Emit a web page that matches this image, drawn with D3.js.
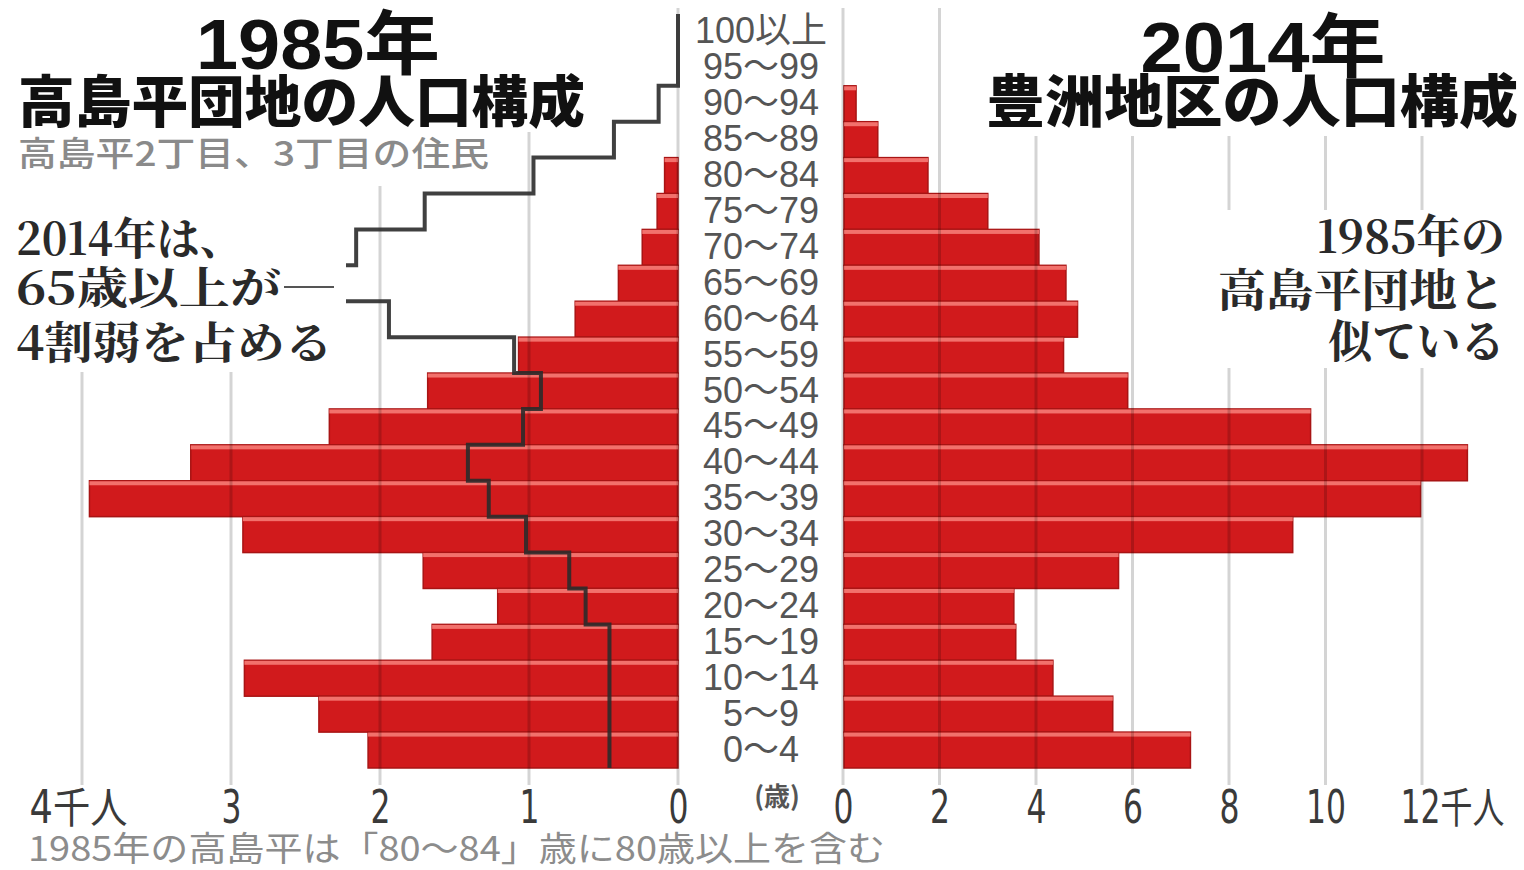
<!DOCTYPE html>
<html>
<head>
<meta charset="utf-8">
<style>
  body { margin: 0; background: #fff; }
  .gothic { font-family: "Noto Sans CJK JP", "Noto Sans", sans-serif; }
  .head { font-family: "Liberation Sans", "Noto Sans CJK JP", sans-serif; }
  .mincho { font-family: "Noto Serif CJK JP", "Noto Sans CJK JP", serif; }
  .narrow { font-family: "Liberation Sans Narrow", "DejaVu Sans Condensed", "Noto Sans CJK JP", sans-serif; }
</style>
</head>
<body>
<svg id="chart" width="1524" height="870"></svg>
<script src="https://d3js.org/d3.v7.min.js"></script>
<script>
// age groups, top to bottom
const ages = ['100以上', '95～99', '90～94', '85～89', '80～84', '75～79', '70～74', '65～69',
              '60～64', '55～59', '50～54', '45～49', '40～44', '35～39', '30～34', '25～29',
              '20～24', '15～19', '10～14', '5～9', '0～4'];
// 千人, 1985年 高島平団地 (80～84 includes 80+)
const takashima1985 = [null, null, null, null, 0.09, 0.14, 0.24, 0.40, 0.69, 1.07, 1.68,
                       2.34, 3.27, 3.95, 2.92, 1.71, 1.21, 1.65, 2.91, 2.41, 2.08];
// 千人, 2014年 高島平 (outline)
const takashima2014 = [0, 0, 0.13, 0.43, 0.97, 1.70, 2.16, 2.27, 1.94, 1.10, 0.92,
                       1.04, 1.41, 1.27, 1.02, 0.73, 0.62, 0.46, 0.46, 0.46, 0.46];
// 千人, 2014年 豊洲地区
const toyosu2014 = [0, 0, 0.25, 0.70, 1.74, 2.98, 4.04, 4.60, 4.84, 4.55, 5.88,
                    9.67, 12.92, 11.95, 9.30, 5.69, 3.52, 3.56, 4.33, 5.57, 7.18];
const leftTicks = [0, 1, 2, 3, 4];
const rightTicks = [0, 2, 4, 6, 8, 10, 12];

const svg = d3.select('#chart');

const y = d3.scaleBand().domain(ages).range([14, 768]).padding(0);
const xL = d3.scaleLinear().domain([0, 4]).range([678, 82]);
const xR = d3.scaleLinear().domain([0, 12]).range([843, 1422]);
const bw = y.bandwidth();
const gridTop = 8, gridBottom = 785;

// bars
function drawBars(values, side) {
  const rows = ages.map((a, i) => ({age: a, v: values[i]})).filter(d => d.v);
  const x0 = side === 'left' ? d => xL(d.v) : d => xR(0) + 1;
  const w = side === 'left' ? d => xL(0) - xL(d.v) : d => xR(d.v) - xR(0);
  const g = svg.append('g').selectAll('g').data(rows).join('g');
  g.append('rect')
    .attr('x', x0).attr('y', d => y(d.age))
    .attr('width', w).attr('height', bw)
    .attr('fill', '#d11a1c').attr('stroke', '#a81414').attr('stroke-width', 1.5);
  g.append('rect')
    .attr('x', x0).attr('y', d => y(d.age) + 0.5)
    .attr('width', w).attr('height', 4)
    .attr('fill', '#f2716c');
}
drawBars(takashima1985, 'left');
drawBars(toyosu2014, 'right');

// grid lines (drawn over bars, semi transparent)
const grid = svg.append('g');
grid.selectAll('.gl').data(leftTicks).join('line')
  .attr('x1', d => xL(d)).attr('x2', d => xL(d))
  .attr('y1', gridTop).attr('y2', gridBottom)
  .attr('stroke', '#000').attr('stroke-opacity', 0.17).attr('stroke-width', 3);
grid.selectAll('.gr').data(rightTicks).join('line')
  .attr('x1', d => xR(d)).attr('x2', d => xR(d))
  .attr('y1', gridTop).attr('y2', gridBottom)
  .attr('stroke', '#000').attr('stroke-opacity', 0.17).attr('stroke-width', 3);

// 2014 takashima outline
const pts = [];
ages.forEach((a, i) => {
  pts.push([xL(takashima2014[i]), y(a)]);
  pts.push([xL(takashima2014[i]), y(a) + bw]);
});
svg.append('path')
  .attr('d', d3.line()(pts))
  .attr('fill', 'none').attr('stroke', '#2b2b2b').attr('stroke-opacity', 0.9)
  .attr('stroke-width', 4).attr('stroke-linejoin', 'miter');

// white blocks behind text (break the grid lines)
const blocks = [[0, 0, 596, 132], [0, 132, 500, 54], [0, 186, 346, 186],
                [975, 0, 549, 136], [1205, 210, 319, 158]];
svg.append('g').selectAll('rect').data(blocks).join('rect')
  .attr('x', d => d[0]).attr('y', d => d[1]).attr('width', d => d[2]).attr('height', d => d[3])
  .attr('fill', '#fff');

// age labels
const ageAxis = svg.append('g').attr('transform', 'translate(761,0)')
  .call(d3.axisRight(y).tickSize(0).tickPadding(0));
ageAxis.select('.domain').remove();
ageAxis.selectAll('text')
  .attr('text-anchor', 'middle').attr('x', 0)
  .attr('font-family', '"Liberation Sans", "Noto Sans CJK JP", sans-serif')
  .attr('font-size', 36).attr('fill', '#555');

svg.append('text').attr('class', 'gothic')
  .attr('x', 777).attr('y', 806).attr('text-anchor', 'middle')
  .attr('font-size', 26).attr('font-weight', 700).attr('fill', '#555')
  .text('(歳)');

// bottom axes
function styleAxis(g) {
  g.select('.domain').remove();
  g.selectAll('text').attr('class', 'narrow')
    .attr('font-family', null).attr('font-size', 46).attr('fill', '#3a3a3a')
    .attr('textLength', d => String(d).length * 20)
    .attr('lengthAdjust', 'spacingAndGlyphs');
}
function unitLabel(text, num, len) {
  text.text(null).attr('textLength', len);
  text.append('tspan').text(num);
  text.append('tspan').attr('font-size', 42).text('千人');
}
const axL = svg.append('g').attr('transform', `translate(0,${gridBottom})`)
  .call(d3.axisBottom(xL).tickValues(leftTicks).tickSize(0).tickPadding(5)
        .tickFormat(d3.format('d')));
styleAxis(axL);
axL.selectAll('text').filter(d => d === 4)
  .attr('x', -4).call(unitLabel, '4', 98);

const axR = svg.append('g').attr('transform', `translate(0,${gridBottom})`)
  .call(d3.axisBottom(xR).tickValues(rightTicks).tickSize(0).tickPadding(5)
        .tickFormat(d3.format('d')));
styleAxis(axR);
axR.selectAll('text').filter(d => d === 12)
  .attr('text-anchor', 'end').attr('x', 82).call(unitLabel, '12', 104);

// titles
function txt(cls, x, yy, size, weight, fill, s, len, anchor) {
  const t = svg.append('text').attr('class', cls)
    .attr('x', x).attr('y', yy).attr('font-size', size)
    .attr('font-weight', weight).attr('fill', fill)
    .attr('text-anchor', anchor || 'start').text(s);
  if (len) t.attr('textLength', len).attr('lengthAdjust', 'spacingAndGlyphs');
  return t;
}
txt('head', 318, 69, 70, 700, '#111', '1985年', 244, 'middle');
txt('gothic', 18, 122, 56, 900, '#111', '高島平団地の人口構成', 567);
txt('gothic', 18, 166, 34, 500, '#8a8a8a', '高島平2丁目、3丁目の住民', 471);

txt('head', 1263, 72, 70, 700, '#111', '2014年', 245, 'middle');
txt('gothic', 986, 122, 57, 900, '#111', '豊洲地区の人口構成', 532);

// annotations
txt('mincho', 16, 255, 44, 700, '#2a2a2a', '2014年は、', 227);
txt('mincho', 16, 304, 44, 700, '#2a2a2a', '65歳以上が', 265);
txt('mincho', 16, 359, 44, 700, '#2a2a2a', '4割弱を占める', 317);
svg.append('line')
  .attr('x1', 284).attr('x2', 334).attr('y1', 287).attr('y2', 287)
  .attr('stroke', '#555').attr('stroke-width', 2);

txt('mincho', 1505, 253, 45, 700, '#2a2a2a', '1985年の', 188, 'end');
txt('mincho', 1505, 307, 45, 700, '#2a2a2a', '高島平団地と', 287, 'end');
txt('mincho', 1505, 358, 45, 700, '#2a2a2a', '似ている', 177, 'end');

// footnote
txt('gothic', 28, 861, 34, 400, '#8c8c8c', '1985年の高島平は「80～84」歳に80歳以上を含む', 857);
</script>
</body>
</html>
